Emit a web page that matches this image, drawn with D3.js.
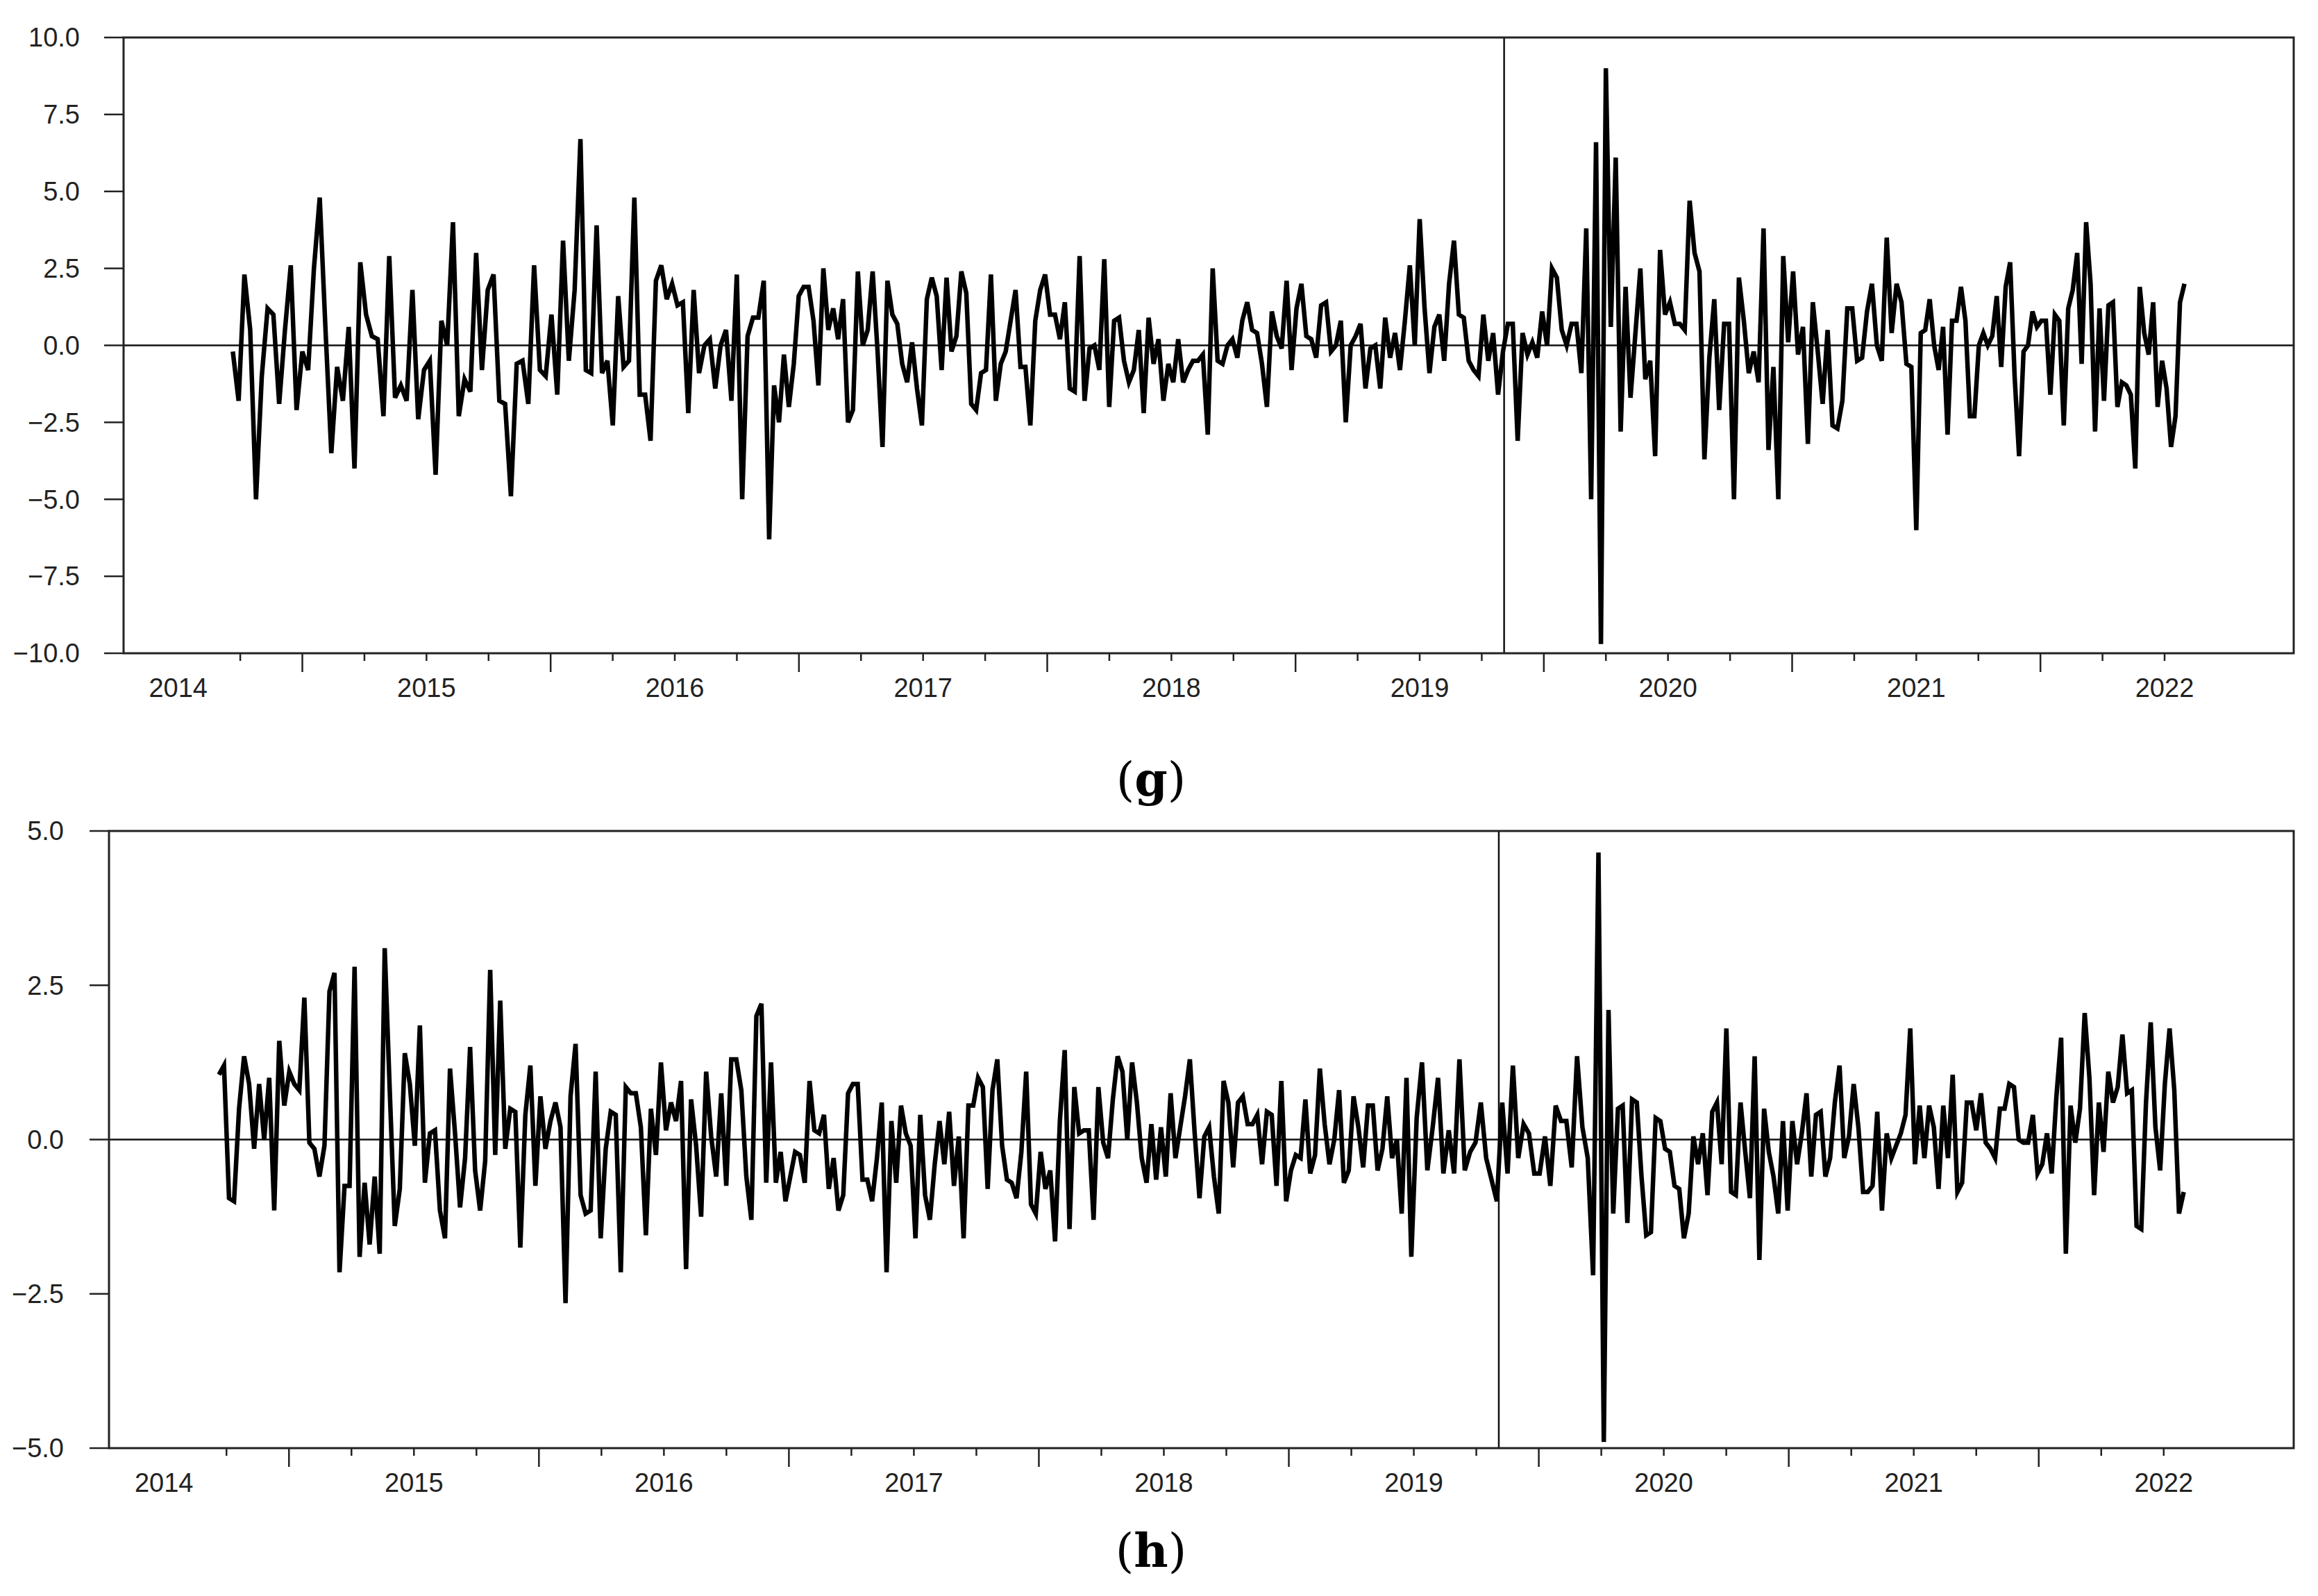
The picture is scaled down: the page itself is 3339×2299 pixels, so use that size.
<!DOCTYPE html>
<html>
<head>
<meta charset="utf-8">
<script src="https://cdn.jsdelivr.net/npm/d3@7"></script>
<style>
  body { margin: 0; background: #fff; }
  svg text { font-family: "Liberation Sans", Arial, sans-serif; fill: #222; }
</style>
</head>
<body>
<script>
// weekly series, first obs ~ 2014.22, last obs ~ 2022.08
const START_YEAR = 2014.22, END_YEAR = 2022.08;
const BREAK_YEAR = 2019.34;
const yearLabels = [2014, 2015, 2016, 2017, 2018, 2019, 2020, 2021, 2022];

const seriesG = [
  -0.2,-1.8,2.3,0.5,-5.0,-1.0,1.2,1.0,-1.9,0.5,2.6,-2.1,-0.2,-0.8,2.5,4.8,0.5,-3.5,-0.7,-1.8,0.6,-4.0,2.7,1.0,0.3,0.2,-2.3,2.9,-1.7,-1.3,-1.8,1.8,-2.4,-0.8,-0.5,-4.2,0.8,0.0,4.0,-2.3,-1.1,-1.5,3.0,-0.8,1.8,2.3,-1.8,-1.9,-4.9,-0.6,-0.5,-1.9,
  2.6,-0.8,-1.0,1.0,-1.6,3.4,-0.5,1.8,6.7,-0.8,-0.9,3.9,-0.9,-0.5,-2.6,1.6,-0.7,-0.5,4.8,-1.6,-1.6,-3.1,2.1,2.6,1.5,2.0,1.3,1.4,-2.2,1.8,-0.9,0.0,0.2,-1.4,0.0,0.5,-1.8,2.3,-5.0,0.3,0.9,0.9,2.1,-6.3,-1.3,-2.5,-0.3,-2.0,-0.6,1.6,1.9,1.9,0.8,-1.3,2.5,0.5,
  1.2,0.2,1.5,-2.5,-2.1,2.4,0.0,0.5,2.4,-0.2,-3.3,2.1,1.0,0.7,-0.6,-1.2,0.1,-1.4,-2.6,1.5,2.2,1.6,-0.8,2.2,-0.2,0.3,2.4,1.7,-1.9,-2.1,-0.9,-0.8,2.3,-1.8,-0.6,-0.2,0.8,1.8,-0.7,-0.7,-2.6,0.8,1.8,2.3,1.0,1.0,0.2,1.4,-1.4,-1.5,2.9,-1.8,
  -0.1,0.0,-0.8,2.8,-2.0,0.8,0.9,-0.5,-1.2,-0.8,0.5,-2.2,0.9,-0.6,0.2,-1.8,-0.6,-1.2,0.2,-1.2,-0.8,-0.5,-0.5,-0.3,-2.9,2.5,-0.5,-0.6,0.0,0.2,-0.4,0.8,1.4,0.5,0.4,-0.6,-2.0,1.1,0.3,-0.1,2.1,-0.8,1.2,2.0,0.3,0.2,-0.4,1.3,1.4,-0.2,0.0,0.8,
  -2.5,0.0,0.3,0.7,-1.4,-0.1,0.0,-1.4,0.9,-0.4,0.4,-0.8,0.8,2.6,0.0,4.1,1.2,-0.9,0.6,1.0,-0.5,2.0,3.4,1.0,0.9,-0.5,-0.8,-1.0,1.0,-0.5,0.4,-1.6,-0.2,0.7,0.7,-3.1,0.4,-0.3,0.1,-0.4,1.1,0.0,2.5,2.2,0.5,0.0,0.7,0.7,-0.9,3.8,-5.0,6.6,
  -9.7,9.0,0.6,6.1,-2.8,1.9,-1.7,0.4,2.5,-1.1,-0.5,-3.6,3.1,1.0,1.4,0.7,0.7,0.5,4.7,3.0,2.4,-3.7,-0.4,1.5,-2.1,0.7,0.7,-5.0,2.2,0.8,-0.9,-0.2,-1.2,3.8,-3.4,-0.7,-5.0,2.9,0.1,2.4,-0.3,0.6,-3.2,1.4,-0.2,-1.9,0.5,-2.6,-2.7,-1.8,1.2,1.2,
  -0.5,-0.4,1.1,2.0,0.0,-0.5,3.5,0.4,2.0,1.4,-0.6,-0.7,-6.0,0.4,0.5,1.5,0.0,-0.8,0.6,-2.9,0.8,0.8,1.9,0.8,-2.3,-2.3,0.0,0.4,0.0,0.3,1.6,-0.7,1.9,2.7,-1.0,-3.6,-0.2,0.0,1.1,0.6,0.8,0.8,-1.6,1.0,0.8,-2.6,1.2,1.8,3.0,-0.6,4.0,2.0,
  -2.8,1.2,-1.8,1.3,1.4,-2.0,-1.2,-1.3,-1.6,-4.0,1.9,0.4,-0.3,1.4,-2.0,-0.5,-1.4,-3.3,-2.3,1.4,2.0
];
// dates of a few clearly visible swings (last occurrence of the value), used to place the weeks
const anchorValuesG = [6.7, -6.3, 4.1, -9.7, -6.0];
const anchorYearsG = [2015.62, 2016.38, 2019.00, 2019.73, 2021.00];

const seriesH = [
  1.05,1.2,-0.95,-1.0,0.5,1.35,0.9,-0.15,0.9,0.0,1.0,-1.15,1.6,0.55,1.1,0.9,0.8,2.3,-0.05,-0.15,-0.6,-0.1,2.4,2.7,-2.15,-0.75,-0.75,2.8,-1.9,-0.7,-1.7,-0.6,-1.85,3.1,0.8,-1.4,-0.8,1.4,0.9,-0.1,1.85,-0.7,0.1,0.15,-1.15,-1.6,1.15,0.1,-1.1,-0.3,1.5,-0.5,
  -1.15,-0.35,2.75,-0.25,2.25,-0.15,0.5,0.45,-1.75,0.4,1.2,-0.75,0.7,-0.15,0.3,0.6,0.2,-2.65,0.7,1.55,-0.9,-1.2,-1.15,1.1,-1.6,-0.15,0.45,0.4,-2.15,0.85,0.75,0.75,0.2,-1.55,0.5,-0.25,1.25,0.15,0.6,0.3,0.95,-2.1,0.65,-0.1,-1.25,1.1,0.05,-0.6,
  0.75,-0.75,1.3,1.3,0.8,-0.6,-1.3,2.0,2.2,-0.7,1.25,-0.7,-0.2,-1.0,-0.6,-0.2,-0.25,-0.7,0.95,0.15,0.1,0.4,-0.8,-0.3,-1.15,-0.9,0.75,0.9,0.9,-0.65,-0.65,-1.0,-0.3,0.6,-2.15,0.3,-0.7,0.55,0.1,-0.1,-1.6,0.4,-0.9,-1.3,-0.4,0.3,-0.4,0.45,-0.75,0.05,-1.6,0.55,
  0.55,1.0,0.85,-0.8,0.8,1.3,-0.1,-0.65,-0.7,-0.95,-0.2,1.1,-1.05,-1.2,-0.2,-0.8,-0.5,-1.65,0.3,1.45,-1.45,0.85,0.1,0.15,0.15,-1.3,0.85,-0.05,-0.3,0.65,1.35,1.1,0.0,1.25,0.6,-0.3,-0.7,0.25,-0.65,0.2,-0.6,0.75,-0.3,0.2,0.7,1.3,0.1,-0.95,0.05,0.2,-0.6,-1.2,
  0.95,0.6,-0.45,0.6,0.7,0.25,0.25,0.4,-0.4,0.45,0.4,-0.75,0.95,-1.0,-0.5,-0.25,-0.3,0.65,-0.55,-0.25,1.15,0.25,-0.4,0.0,0.8,-0.7,-0.5,0.7,0.2,-0.45,0.55,0.55,-0.5,-0.15,0.7,-0.3,0.0,-1.2,1.0,-1.9,0.35,1.25,-0.5,0.2,1.0,-0.55,0.15,-0.55,1.3,-0.5,-0.2,-0.05,
  0.6,-0.3,-0.65,-1.0,0.6,-0.55,1.2,-0.3,0.25,0.1,-0.55,-0.55,0.05,-0.75,0.55,0.3,0.3,-0.45,1.35,0.2,-0.3,-2.2,4.65,-4.9,2.1,-1.2,0.5,0.55,-1.35,0.65,0.6,-0.6,-1.55,-1.5,0.35,0.3,-0.15,-0.2,-0.75,-0.8,-1.6,-1.2,0.05,-0.4,0.1,-0.9,0.45,0.6,-0.4,1.8,-0.85,-0.9,
  0.6,-0.2,-0.95,1.35,-1.95,0.5,-0.2,-0.6,-1.2,0.3,-1.15,0.3,-0.4,0.1,0.75,-0.6,0.4,0.45,-0.6,-0.3,0.6,1.2,-0.3,0.05,0.9,0.2,-0.85,-0.85,-0.75,0.45,-1.15,0.1,-0.3,-0.1,0.1,0.4,1.8,-0.4,0.55,-0.3,0.55,0.2,-0.8,0.55,-0.3,1.05,-0.85,-0.7,0.6,0.6,0.15,0.75,
  -0.05,-0.15,-0.3,0.5,0.5,0.9,0.85,0.0,-0.05,-0.05,0.4,-0.55,-0.4,0.1,-0.55,0.7,1.65,-1.85,0.55,-0.05,0.5,2.05,1.0,-0.9,0.6,-0.2,1.1,0.6,0.85,1.7,0.75,0.8,-1.4,-1.45,0.6,1.9,0.2,-0.5,0.9,1.8,0.8,-1.2,-0.85
];
const anchorValuesH = [2.2, -1.9, -4.9];
const anchorYearsH = [2016.39, 2018.99, 2019.76];

const panels = [
  { data: seriesG, anchorValues: anchorValuesG, anchorYears: anchorYearsG, domain: [-10, 10], left: 178, right: 3304, top: 54, bottom: 941, labelEnd: 115, tag: "g", tagY: 1122 },
  { data: seriesH, anchorValues: anchorValuesH, anchorYears: anchorYearsH, domain: [-5, 5], left: 157, right: 3304, top: 1197, bottom: 2086, labelEnd: 92, tag: "h", tagY: 2233 }
];

const svg = d3.select("body").append("svg")
  .attr("width", 3339)
  .attr("height", 2299);

function drawPanel(p) {
  const x = d3.scaleLinear().domain([2013.78, 2022.52]).range([p.left, p.right]);
  const y = d3.scaleLinear().domain(p.domain).range([p.bottom, p.top]);
  const n = p.data.length;
  // index -> date, piecewise through the anchor weeks
  const idx = [0, ...p.anchorValues.map(v => p.data.lastIndexOf(v)), n - 1];
  const t = d3.scaleLinear().domain(idx).range([START_YEAR, ...p.anchorYears, END_YEAR]);

  const g = svg.append("g");

  // y axis ticks + labels
  const yTicks = d3.range(p.domain[0], p.domain[1] + 0.001, 2.5);
  g.selectAll(".ytick").data(yTicks).enter().append("line")
    .attr("x1", p.left - 28).attr("x2", p.left)
    .attr("y1", d => y(d)).attr("y2", d => y(d))
    .attr("stroke", "#222").attr("stroke-width", 2.5);
  g.selectAll(".ylab").data(yTicks).enter().append("text")
    .attr("x", p.labelEnd).attr("y", d => y(d))
    .attr("dy", "0.35em").attr("text-anchor", "end")
    .attr("font-size", 38)
    .text(d => d3.format(".1f")(d));

  // x ticks every quarter, longer at mid-year
  const xTicks = d3.range(0, 32).map(k => 2014.25 + k * 0.25);
  g.selectAll(".xtick").data(xTicks).enter().append("line")
    .attr("x1", d => x(d)).attr("x2", d => x(d))
    .attr("y1", p.bottom)
    .attr("y2", d => p.bottom + (Math.abs((d % 1) - 0.5) < 0.01 ? 27 : 11))
    .attr("stroke", "#222").attr("stroke-width", 2.5);
  g.selectAll(".xlab").data(yearLabels).enter().append("text")
    .attr("x", d => x(d)).attr("y", p.bottom + 50)
    .attr("dy", "0.35em").attr("text-anchor", "middle")
    .attr("font-size", 38)
    .text(d => d);

  // zero line and structural break
  g.append("line")
    .attr("x1", p.left).attr("x2", p.right)
    .attr("y1", y(0)).attr("y2", y(0))
    .attr("stroke", "#111").attr("stroke-width", 2.5);
  g.append("line")
    .attr("x1", x(BREAK_YEAR)).attr("x2", x(BREAK_YEAR))
    .attr("y1", p.top).attr("y2", p.bottom)
    .attr("stroke", "#111").attr("stroke-width", 2.5);

  // series
  const line = d3.line().x((d, i) => x(t(i))).y(d => y(d));
  g.append("path").datum(p.data)
    .attr("d", line)
    .attr("fill", "none")
    .attr("stroke", "#000")
    .attr("stroke-width", 6.5)
    .attr("stroke-linejoin", "miter");

  // frame
  g.append("rect")
    .attr("x", p.left).attr("y", p.top)
    .attr("width", p.right - p.left).attr("height", p.bottom - p.top)
    .attr("fill", "none").attr("stroke", "#222").attr("stroke-width", 3);

  // panel tag
  const tag = svg.append("text")
    .attr("x", 1658).attr("y", p.tagY)
    .attr("dy", "0.35em").attr("text-anchor", "middle")
    .style("font-family", "'DejaVu Serif', 'Liberation Serif', serif")
    .attr("font-size", 68).style("fill", "#000");
  tag.append("tspan").text("(");
  tag.append("tspan").attr("font-weight", "bold").text(p.tag);
  tag.append("tspan").text(")");
}

panels.forEach(drawPanel);
</script>
</body>
</html>
